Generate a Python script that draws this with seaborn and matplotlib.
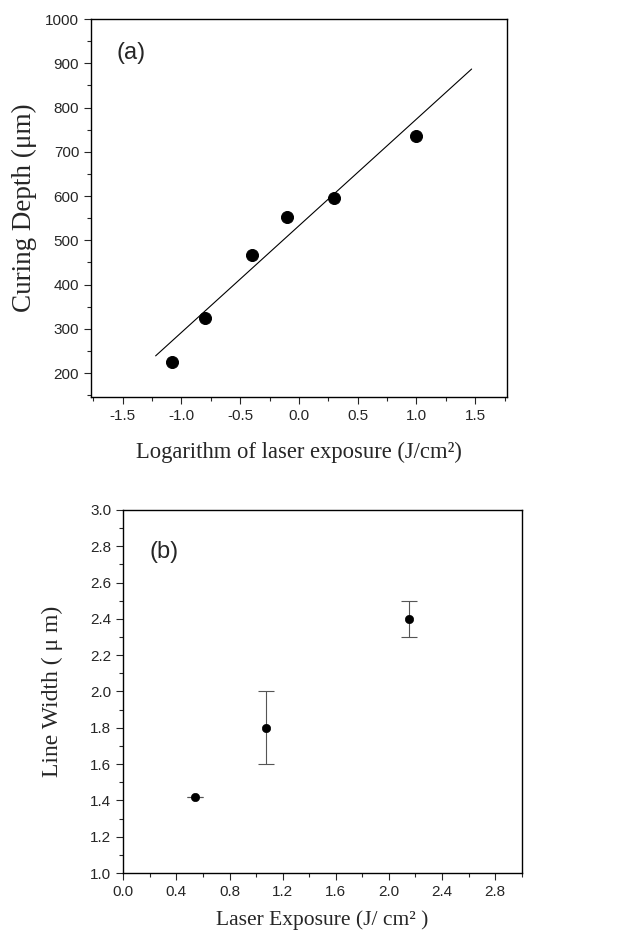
import pandas as pd
import seaborn as sns
import matplotlib.pyplot as plt
from matplotlib.ticker import MultipleLocator

# panel (a): curing depth vs log exposure
log_exposure = [-1.08, -0.80, -0.40, -0.10, 0.30, 1.00]
curing_depth = [226, 325, 466, 552, 596, 735]
fit_x = [-1.22, 1.47]
fit_y = [239, 887]

# panel (b): line width vs exposure
exposure = [0.54, 1.075, 2.15]
line_width = [1.42, 1.80, 2.40]
width_err = [0.0, 0.20, 0.10]

sns.set_style("ticks")
plt.rcParams['font.family'] = ['Liberation Sans', 'DejaVu Sans']

serif = ['Liberation Serif', 'DejaVu Serif']

fig = plt.figure(figsize=(6.17, 9.32), dpi=100)
ax1 = fig.add_axes([0.1475, 0.574, 0.674, 0.4056])
ax2 = fig.add_axes([0.1998, 0.0633, 0.6457, 0.3895])

df_a = pd.DataFrame({'x': log_exposure, 'y': curing_depth})
df_fit = pd.DataFrame({'x': fit_x, 'y': fit_y})
sns.lineplot(data=df_fit, x='x', y='y', ax=ax1, color='black', linewidth=0.8)
sns.scatterplot(data=df_a, x='x', y='y', ax=ax1, color='black', s=75,
                edgecolor='black', zorder=3)
ax1.set_xlim(-1.77, 1.77)
ax1.set_ylim(146, 1000)
ax1.xaxis.set_minor_locator(MultipleLocator(0.25))
ax1.yaxis.set_minor_locator(MultipleLocator(50))
ax1.set_yticks([200, 300, 400, 500, 600, 700, 800, 900, 1000])
ax1.set_xticks([-1.5, -1.0, -0.5, 0.0, 0.5, 1.0, 1.5])
ax1.set_xticklabels(['-1.5', '-1.0', '-0.5', '0.0', '0.5', '1.0', '1.5'])
ax1.set_xlabel('Logarithm of laser exposure (J/cm²)', fontsize=16.3, family=serif, labelpad=14)
ax1.set_ylabel('Curing Depth (μm)', fontsize=19.5, family=serif, labelpad=6)
ax1.text(0.062, 0.91, '(a)', transform=ax1.transAxes, fontsize=17, va='center')

df_b = pd.DataFrame({'x': exposure, 'y': line_width})
ax2.errorbar(exposure, line_width, yerr=width_err, fmt='none', ecolor='#555555',
             elinewidth=0.8, capsize=5.5, capthick=0.8)
sns.scatterplot(data=df_b, x='x', y='y', ax=ax2, color='black', s=36,
                edgecolor='black', zorder=3)
ax2.set_xlim(0, 3.0)
ax2.set_ylim(1.0, 3.0)
ax2.xaxis.set_minor_locator(MultipleLocator(0.2))
ax2.yaxis.set_minor_locator(MultipleLocator(0.1))
ax2.set_xticks([0.0, 0.4, 0.8, 1.2, 1.6, 2.0, 2.4, 2.8])
ax2.set_xticklabels(['0.0', '0.4', '0.8', '1.2', '1.6', '2.0', '2.4', '2.8'])
ax2.set_yticks([1.0, 1.2, 1.4, 1.6, 1.8, 2.0, 2.2, 2.4, 2.6, 2.8, 3.0])
ax2.set_yticklabels(['1.0', '1.2', '1.4', '1.6', '1.8', '2.0', '2.2', '2.4', '2.6', '2.8', '3.0'])
ax2.set_xlabel('Laser Exposure (J/ cm² )', fontsize=15.5, family=serif, labelpad=8)
ax2.set_ylabel('Line Width ( μ m)', fontsize=17, family=serif, labelpad=20)
ax2.text(0.066, 0.884, '(b)', transform=ax2.transAxes, fontsize=17, va='center')

for ax in (ax1, ax2):
    for sp in ax.spines.values():
        sp.set_linewidth(1.0)
        sp.set_color('black')
    ax.tick_params(which='major', direction='out', length=5, width=0.8, labelsize=11)
    ax.tick_params(which='minor', direction='out', length=3, width=0.8)

fig.savefig('out.png', dpi=100)
